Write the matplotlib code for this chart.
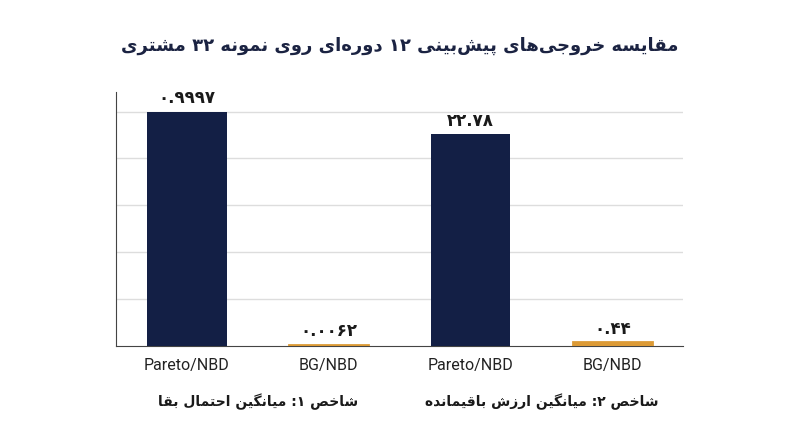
import re
import matplotlib
matplotlib.use("Agg")
import matplotlib.pyplot as plt
import matplotlib.transforms as mtransforms

# داده‌ها
title = "مقایسه خروجی‌های پیش‌بینی ۱۲ دوره‌ای روی نمونه ۳۲ مشتری"
models = ["Pareto/NBD", "BG/NBD", "Pareto/NBD", "BG/NBD"]
group_names = ["شاخص ۱: میانگین احتمال بقا", "شاخص ۲: میانگین ارزش باقیمانده"]
survival = [0.9997, 0.0062]       # شاخص ۱
residual = [22.78, 0.44]          # شاخص ۲
colors = ["#131f45", "#dc9a35"]

# فرم‌های نمایشی: جدا، پایانی، آغازی، میانی
FORMS = {
    "ا": "\uFE8D\uFE8E", "د": "\uFEA9\uFEAA", "ر": "\uFEAD\uFEAE",
    "ز": "\uFEAF\uFEB0", "و": "\uFEED\uFEEE",
    "ب": "\uFE8F\uFE90\uFE91\uFE92", "پ": "\uFB56\uFB57\uFB58\uFB59",
    "ت": "\uFE95\uFE96\uFE97\uFE98", "ج": "\uFE9D\uFE9E\uFE9F\uFEA0",
    "ح": "\uFEA1\uFEA2\uFEA3\uFEA4", "خ": "\uFEA5\uFEA6\uFEA7\uFEA8",
    "س": "\uFEB1\uFEB2\uFEB3\uFEB4", "ش": "\uFEB5\uFEB6\uFEB7\uFEB8",
    "ص": "\uFEB9\uFEBA\uFEBB\uFEBC", "ق": "\uFED5\uFED6\uFED7\uFED8",
    "گ": "\uFB92\uFB93\uFB94\uFB95", "ل": "\uFEDD\uFEDE\uFEDF\uFEE0",
    "م": "\uFEE1\uFEE2\uFEE3\uFEE4", "ن": "\uFEE5\uFEE6\uFEE7\uFEE8",
    "ه": "\uFEE9\uFEEA\uFEEB\uFEEC", "ی": "\uFBFC\uFBFD\uFBFE\uFBFF",
}


def fa(text):
    out = []
    for i, c in enumerate(text):
        if c not in FORMS:
            if c != "\u200c":
                out.append(c)
            continue
        prev = text[i - 1] if i > 0 else ""
        nxt = text[i + 1] if i < len(text) - 1 else ""
        jp = prev in FORMS and len(FORMS[prev]) == 4
        jn = nxt in FORMS and len(FORMS[c]) == 4
        if jp and jn:
            out.append(FORMS[c][3])
        elif jp:
            out.append(FORMS[c][1])
        elif jn:
            out.append(FORMS[c][2])
        else:
            out.append(FORMS[c][0])
    s = "".join(out)[::-1]
    return re.sub(r"[۰-۹0-9.]+", lambda m: m.group(0)[::-1], s)


def fa_num(v):
    return str(v).translate(str.maketrans("0123456789", "۰۱۲۳۴۵۶۷۸۹"))


fig = plt.figure(figsize=(8, 4.47), dpi=100)
ax = fig.add_axes([0.145, 0.226, 0.709, 0.568])
ax2 = ax.twinx()

x1 = [0, 1]
x2 = [2, 3]
ax.bar(x1, survival, width=0.56, color=colors, edgecolor=colors, linewidth=[0, 2], zorder=3)
ax2.bar(x2, residual, width=0.56, color=colors, edgecolor=colors, linewidth=[0, 2], zorder=3)

for xi, v in zip(x1, survival):
    ax.annotate(fa_num(v), (xi, v), xytext=(0, 3), textcoords="offset points",
                ha="center", va="bottom", fontsize=12, fontweight="bold",
                family=["DejaVu Sans"], color="#1a1a1a")
for xi, v in zip(x2, residual):
    ax2.annotate(fa_num(v), (xi, v), xytext=(0, 3), textcoords="offset points",
                 ha="center", va="bottom", fontsize=12, fontweight="bold",
                 family=["DejaVu Sans"], color="#1a1a1a")

ax.set_xlim(-0.5, 3.5)
ax.set_ylim(0, 1.083)
ax2.set_ylim(0, 27.3)
ax.set_yticks([0.2, 0.4, 0.6, 0.8, 1.0])
ax.yaxis.grid(True, color="#dddddd", linewidth=1)
ax.set_axisbelow(True)
ax.tick_params(axis="y", length=0, labelleft=False)
ax2.tick_params(axis="y", length=0, labelright=False)
ax.set_xticks(range(4), models)
ax.tick_params(axis="x", length=0, pad=9, labelsize=11.5, colors="#222222")
for lab in ax.get_xticklabels():
    lab.set_family("Roboto")

for a in (ax, ax2):
    a.spines["top"].set_visible(False)
    a.spines["right"].set_visible(False)
ax2.spines["left"].set_visible(False)
ax2.spines["bottom"].set_visible(False)
ax.spines["left"].set_color("#444444")
ax.spines["bottom"].set_color("#444444")

trans = mtransforms.blended_transform_factory(ax.transData, ax.transAxes)
for gx, name in zip([0.5, 2.5], group_names):
    ax.text(gx, -0.22, fa(name), transform=trans, ha="center", va="center",
            fontsize=10, fontweight="bold", family=["DejaVu Sans"], color="#1a1a1a")

fig.text(0.5, 1 - 46 / 447, fa(title), ha="center", va="center", fontsize=13,
         fontweight="bold", family=["DejaVu Sans"], color="#1b2342")

fig.savefig("out.png", dpi=100)
